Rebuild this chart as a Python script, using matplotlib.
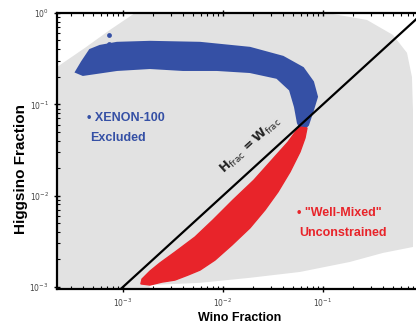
import matplotlib
matplotlib.use("Agg")
import matplotlib.pyplot as plt
from matplotlib.patches import Polygon
from matplotlib.ticker import LogLocator, NullFormatter, FuncFormatter
import numpy as np

# ---- data (fractions) ----
# allowed (grey) parameter region outline
grey_wino = [1e-5, 2.19e-4, 4.17e-4, 7.41e-4, 1.32e-3, 0.110, 0.275, 0.501, 0.692, 0.776,
             0.794, 0.794, 0.398, 0.186, 0.0589, 0.0186, 5.89e-3, 1.86e-3, 1.17e-3, 1e-5]
grey_higgs = [0.256, 0.256, 0.415, 0.653, 1.0, 1.0, 0.840, 0.575, 0.366, 0.199,
              0.0868, 2.74e-3, 2.36e-3, 1.88e-3, 1.46e-3, 1.26e-3, 1.11e-3, 1.05e-3, 1e-5, 1e-5]

# XENON-100 excluded (blue) point cloud outline
blue_wino = [3.39e-4, 3.89e-4, 4.68e-4, 5.89e-4, 8.71e-4, 1.86e-3, 5.89e-3, 0.0186, 0.0398,
             0.0631, 0.0794, 0.0871, 0.0794, 0.0708, 0.0617,
             0.0562, 0.0525, 0.0468, 0.0347, 0.0186, 8.71e-3, 3.98e-3, 1.86e-3, 8.71e-4, 3.98e-4]
blue_higgs = [0.226, 0.291, 0.394, 0.436, 0.471, 0.483, 0.471, 0.415, 0.331,
              0.250, 0.176, 0.121, 0.0868, 0.0594, 0.0511,
              0.0625, 0.0937, 0.144, 0.195, 0.226, 0.238, 0.238, 0.250, 0.238, 0.210]
blue_dot_wino = [7.24e-4, 7.24e-4]
blue_dot_higgs = [0.575, 0.459]

# "well-mixed" unconstrained (red) point cloud outline
red_wino = [0.0575, 0.0447, 0.0309, 0.0204, 0.0126, 7.94e-3, 5.25e-3, 3.31e-3, 2.34e-3,
            1.86e-3, 1.55e-3, 1.51e-3, 1.86e-3, 2.45e-3, 3.31e-3, 4.47e-3,
            5.89e-3, 8.32e-3, 0.0123, 0.0186, 0.0263, 0.0355, 0.0468, 0.0589, 0.0661, 0.0692]
red_higgs = [0.0565, 0.0386, 0.0246, 0.0148, 8.96e-3, 5.41e-3, 3.52e-3, 2.41e-3, 1.83e-3,
             1.49e-3, 1.22e-3, 1.08e-3, 1.05e-3, 1.13e-3, 1.19e-3, 1.35e-3,
             1.53e-3, 1.97e-3, 2.88e-3, 4.43e-3, 6.97e-3, 0.0110, 0.0182, 0.0301, 0.0428, 0.0551]

# H_frac = W_frac diagonal
diag = [1e-4, 1.0]

x_limits = [2.19e-4, 1.0]
y_limits = [9.5e-4, 1.0]

BLUE = "#3550a5"
RED = "#e8242a"
GREY = "#e2e2e2"

fig = plt.figure(figsize=(4.16, 3.25), dpi=100)
ax = fig.add_axes([57 / 416, 36 / 325, 366 / 416, 276 / 325])
ax.set_xscale("log")
ax.set_yscale("log")
ax.set_xlim(*x_limits)
ax.set_ylim(*y_limits)

ax.add_patch(Polygon(np.column_stack([grey_wino, grey_higgs]), closed=True,
                     facecolor=GREY, edgecolor="none", zorder=1))
ax.add_patch(Polygon(np.column_stack([blue_wino, blue_higgs]), closed=True,
                     facecolor=BLUE, edgecolor=BLUE, linewidth=1.5, zorder=2))
ax.scatter(blue_dot_wino, blue_dot_higgs, s=12, color=BLUE, zorder=2, linewidths=0)
ax.add_patch(Polygon(np.column_stack([red_wino, red_higgs]), closed=True,
                     facecolor=RED, edgecolor=RED, linewidth=1.0, zorder=3))
ax.plot(diag, diag, color="black", linewidth=1.6, zorder=4)

ax.text(0.0190, 0.0358, r"$\mathbf{H}_{\rm frac}\,\mathbf{=W}_{\rm frac}$", rotation=42.5,
        ha="center", va="center", fontsize=9, color="#222222", zorder=5,
        rotation_mode="anchor")

fam = ["Liberation Sans", "DejaVu Sans"]
ax.text(4.37e-4, 0.0708, "\u2022 XENON-100", color=BLUE, fontsize=9, fontweight="bold",
        family=fam, ha="left", va="center", zorder=5)
ax.text(4.68e-4, 0.0428, "Excluded", color=BLUE, fontsize=9, fontweight="bold",
        family=fam, ha="left", va="center", zorder=5)
ax.text(0.0550, 6.46e-3, "\u2022 \"Well-Mixed\"", color=RED, fontsize=9, fontweight="bold",
        family=fam, ha="left", va="center", zorder=5)
ax.text(0.0575, 3.9e-3, "Unconstrained", color=RED, fontsize=9, fontweight="bold",
        family=fam, ha="left", va="center", zorder=5)

ax.set_xlabel("Wino Fraction", fontsize=9, fontweight="bold", family=fam)
ax.set_ylabel("Higgsino Fraction", fontsize=11, fontweight="bold", family=fam)
ax.xaxis.set_label_coords(0.5, -0.082)
ax.yaxis.set_label_coords(-0.08, 0.435)

def fmt(v, pos):
    e = int(round(np.log10(v)))
    return r"$10^{%d}$" % e

for axis in (ax.xaxis, ax.yaxis):
    axis.set_major_locator(LogLocator(base=10, numticks=10))
    axis.set_minor_locator(LogLocator(base=10, subs=np.arange(2, 10), numticks=20))
    axis.set_major_formatter(FuncFormatter(fmt))
    axis.set_minor_formatter(NullFormatter())

# the x-axis 10^0 label sits beyond the cropped right edge
ax.xaxis.set_major_formatter(FuncFormatter(lambda v, p: "" if v > 0.5 else fmt(v, p)))

ax.tick_params(which="major", direction="inout", length=5, width=1.0, labelsize=5.5,
               labelcolor="#444444", top=True, right=True)
ax.tick_params(which="minor", direction="in", length=2.5, width=0.8, top=True, right=True)
ax.tick_params(axis="x", pad=3)

for s in ax.spines.values():
    s.set_linewidth(1.6)
    s.set_color("black")

fig.savefig("out.png", dpi=100)
